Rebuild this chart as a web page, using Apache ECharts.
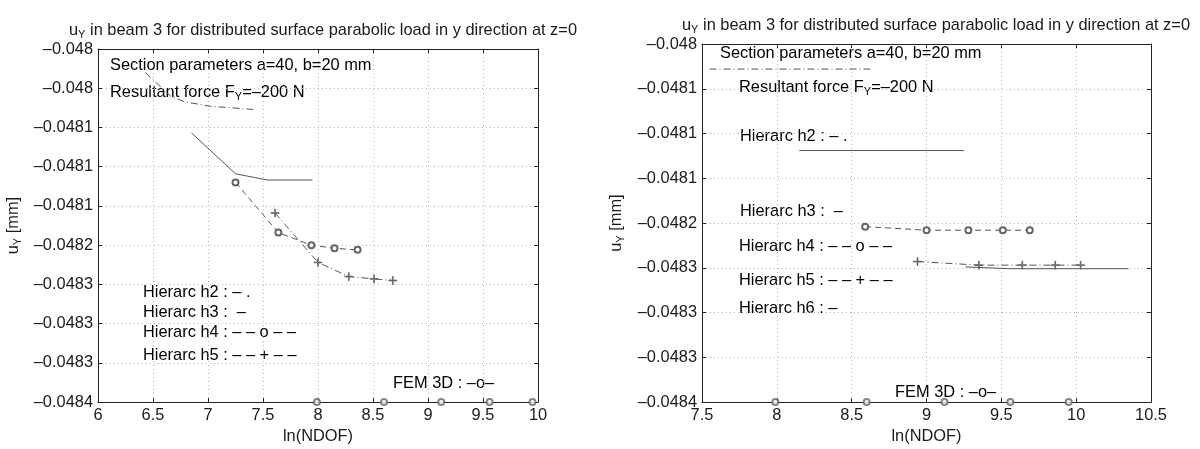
<!DOCTYPE html>
<html>
<head>
<meta charset="utf-8">
<script src="https://cdn.jsdelivr.net/npm/echarts@6/dist/echarts.min.js"></script>
<style>
html,body{margin:0;padding:0;background:#fff;}
#chart{width:1200px;height:449px;}
</style>
</head>
<body>
<div id="chart"></div>
<script>
// ---------- data (left panel) ----------
const L_h2_x = [6.43, 6.66, 6.78, 7.02, 7.41];
const L_h2_y = [-0.047980, -0.048010, -0.048017, -0.048023, -0.048027];
const L_h3_x = [6.85, 7.25, 7.54, 7.95];
const L_h3_y = [-0.048057, -0.048109, -0.048117, -0.048117];
const L_h4_x = [7.25, 7.64, 7.94, 8.15, 8.36];
const L_h4_y = [-0.048120, -0.048184, -0.048200, -0.048204, -0.048206];
const L_h5_x = [7.61, 8.00, 8.28, 8.51, 8.68];
const L_h5_y = [-0.048159, -0.048222, -0.048240, -0.048243, -0.048245];
// ---------- data (right panel) ----------
const R_h2_x = [7.55, 8.64];
const R_h2_y = [-0.048028, -0.048028];
const R_h3_x = [8.15, 9.25];
const R_h3_y = [-0.048119, -0.048119];
const R_h4_x = [8.59, 9.00, 9.28, 9.51, 9.69];
const R_h4_y = [-0.048204, -0.048208, -0.048208, -0.048208, -0.048208];
const R_h5_x = [8.94, 9.35, 9.64, 9.86, 10.03];
const R_h5_y = [-0.048243, -0.048247, -0.048247, -0.048247, -0.048247];
const R_h6_x = [9.26, 9.56, 10.35];
const R_h6_y = [-0.048249, -0.048251, -0.048251];
// ---------- FEM 3D reference (both panels) ----------
const FEM_x = [7.99, 8.60, 9.12, 9.56, 9.95];
const FEM_y = [-0.0484, -0.0484, -0.0484, -0.0484, -0.0484];
// ---------- tick labels ----------
const L_yTickLabels = ['–0.0484','–0.0483','–0.0483','–0.0483','–0.0482','–0.0481','–0.0481','–0.0481','–0.048','–0.048'];
const R_yTickLabels = ['–0.0484','–0.0483','–0.0483','–0.0483','–0.0482','–0.0481','–0.0481','–0.0481','–0.048'];
const L_xTickLabels = ['6','6.5','7','7.5','8','8.5','9','9.5','10'];
const R_xTickLabels = ['7.5','8','8.5','9','9.5','10','10.5'];
const titleText = '{n|u}{s|Y}{n| in beam 3 for distributed surface parabolic load in y direction at z=0}';
const xName = 'ln(NDOF)';
const yName = '{n|u}{s|Y}{n| [mm]}';
const notesL = ['Section parameters a=40, b=20 mm','{n|Resultant force F}{s|Y}{n|=–200 N}','Hierarc h2 : – .','Hierarc h3 :  –','Hierarc h4 : – – o – –','Hierarc h5 : – – + – –','FEM 3D : –o–'];
const notesR = ['Section parameters a=40, b=20 mm','{n|Resultant force F}{s|Y}{n|=–200 N}','Hierarc h2 : – .','Hierarc h3 :  –','Hierarc h4 : – – o – –','Hierarc h5 : – – + – –','Hierarc h6 : –','FEM 3D : –o–'];

const zip = (xs, ys) => xs.map((x, i) => [x, ys[i]]);
const FONT = 'Liberation Sans';
const FS = 16.4;
const TXT = '#1a1a1a';
const LINE = '#555';
const MARK = '#666';
const PLUS = 'path://M4.5,0h1v4.5h4.5v1h-4.5v4.5h-1v-4.5h-4.5v-1h4.5z';
const rich = {
  n: {fontFamily: FONT, fontSize: FS, color: TXT, lineHeight: 20, verticalAlign: 'middle'},
  s: {fontFamily: FONT, fontSize: 11, color: TXT, lineHeight: 20, verticalAlign: 'bottom'}
};

function labelFrom(arr, min, step) {
  return v => arr[Math.round((v - min) / step)] ?? '';
}

const grids = [
  {left: 98, top: 49, width: 440, height: 362, show: false},
  {left: 702, top: 44, width: 449, height: 366, show: false}
];

const yStep = 0.00005;
const axCfg = [
  {xmin: 6, xmax: 10, xint: 0.5, xl: L_xTickLabels, ymin: -0.0484, ymax: -0.04795, yl: L_yTickLabels, xGap: 15, yGap: 75},
  {xmin: 7.5, xmax: 10.5, xint: 0.5, xl: R_xTickLabels, ymin: -0.0484, ymax: -0.0480, yl: R_yTickLabels, xGap: 20, yGap: 76}
];

const xAxes = [], yAxes = [];
axCfg.forEach((c, g) => {
  const common = {gridIndex: g, type: 'value', min: c.xmin, max: c.xmax, interval: c.xint,
    axisLine: {show: true, onZero: false, lineStyle: {color: '#222', width: 1}},
    axisTick: {show: true, inside: true, length: 4, lineStyle: {color: '#222'}}};
  xAxes.push(Object.assign({}, common, {position: 'bottom',
    name: xName, nameLocation: 'middle', nameGap: c.xGap,
    nameTextStyle: {fontFamily: FONT, fontSize: FS, color: TXT, verticalAlign: 'top'},
    axisLabel: {show: true, margin: 5, fontFamily: FONT, fontSize: FS, color: TXT,
      formatter: labelFrom(c.xl, c.xmin, c.xint)},
    splitLine: {show: true, lineStyle: {color: '#b8b8b8', type: [1, 3], width: 1}}}));
  xAxes.push(Object.assign({}, common, {position: 'top', axisLabel: {show: false}, splitLine: {show: false}}));
  const ycommon = {gridIndex: g, type: 'value', min: c.ymin, max: c.ymax, interval: yStep,
    axisLine: {show: true, onZero: false, lineStyle: {color: '#222', width: 1}},
    axisTick: {show: true, inside: true, length: 4, lineStyle: {color: '#222'}}};
  yAxes.push(Object.assign({}, ycommon, {position: 'left',
    name: yName, nameLocation: 'middle', nameGap: c.yGap, nameRotate: 90,
    nameTextStyle: {rich: rich},
    axisLabel: {show: true, margin: 5, fontFamily: FONT, fontSize: FS, color: TXT,
      formatter: labelFrom(c.yl, c.ymin, yStep)},
    splitLine: {show: true, lineStyle: {color: '#b8b8b8', type: [1, 3], width: 1}}}));
  yAxes.push(Object.assign({}, ycommon, {position: 'right', axisLabel: {show: false}, splitLine: {show: false}}));
});

function line(g, data, type, symbol, size) {
  return {
    type: 'line', xAxisIndex: g * 2, yAxisIndex: g * 2, data: data,
    symbol: symbol || 'none', symbolSize: size || 6, showSymbol: !!symbol,
    lineStyle: {color: LINE, width: 1, type: type},
    itemStyle: {color: MARK, borderColor: MARK, borderWidth: 0.8},
    animation: false, silent: true
  };
}
const DASHDOT = [7, 3, 1, 3];
const DASH = [6, 4];

const series = [
  line(0, zip(L_h2_x, L_h2_y), DASHDOT),
  line(0, zip(L_h3_x, L_h3_y), 'solid'),
  line(0, zip(L_h4_x, L_h4_y), DASH, 'emptyCircle', 6),
  line(0, zip(L_h5_x, L_h5_y), DASHDOT, PLUS, 8),
  line(1, zip(R_h2_x, R_h2_y), DASHDOT),
  line(1, zip(R_h3_x, R_h3_y), 'solid'),
  line(1, zip(R_h4_x, R_h4_y), DASH, 'emptyCircle', 6),
  line(1, zip(R_h5_x, R_h5_y), DASHDOT, PLUS, 8),
  line(1, zip(R_h6_x, R_h6_y), 'solid')
];
[0, 1].forEach(g => series.push({
  type: 'scatter', xAxisIndex: g * 2, yAxisIndex: g * 2, data: zip(FEM_x, FEM_y),
  symbol: 'emptyCircle', symbolSize: 6, clip: false,
  itemStyle: {color: MARK, borderColor: MARK, borderWidth: 0.8}, animation: false, silent: true
}));

function note(text, x, y) {
  return {type: 'text', x: x, y: y, silent: true,
    style: {text: text.indexOf('{') >= 0 ? text : '{n|' + text + '}', rich: rich, verticalAlign: 'middle', align: 'left'}};
}
const posL = [[110, 65], [110, 92], [143, 292], [143, 312], [143, 332], [143, 355], [393, 383]];
const posR = [[720, 53], [739, 87], [740, 136], [740, 211], [739, 246], [739, 280], [739, 308], [895, 392]];
const graphic = notesL.map((t, i) => note(t, posL[i][0], posL[i][1]))
  .concat(notesR.map((t, i) => note(t, posR[i][0], posR[i][1])));

const chart = echarts.init(document.getElementById('chart'), null, {renderer: 'canvas'});
chart.setOption({
  backgroundColor: '#fff',
  animation: false,
  title: [
    {text: titleText, left: 318, top: 15, textAlign: 'center',
      textStyle: {fontFamily: FONT, fontSize: FS, fontWeight: 'normal', color: TXT, rich: rich}},
    {text: titleText, left: 931, top: 10, textAlign: 'center',
      textStyle: {fontFamily: FONT, fontSize: FS, fontWeight: 'normal', color: TXT, rich: rich}}
  ],
  grid: grids,
  xAxis: xAxes,
  yAxis: yAxes,
  series: series,
  graphic: graphic
});
</script>
</body>
</html>
